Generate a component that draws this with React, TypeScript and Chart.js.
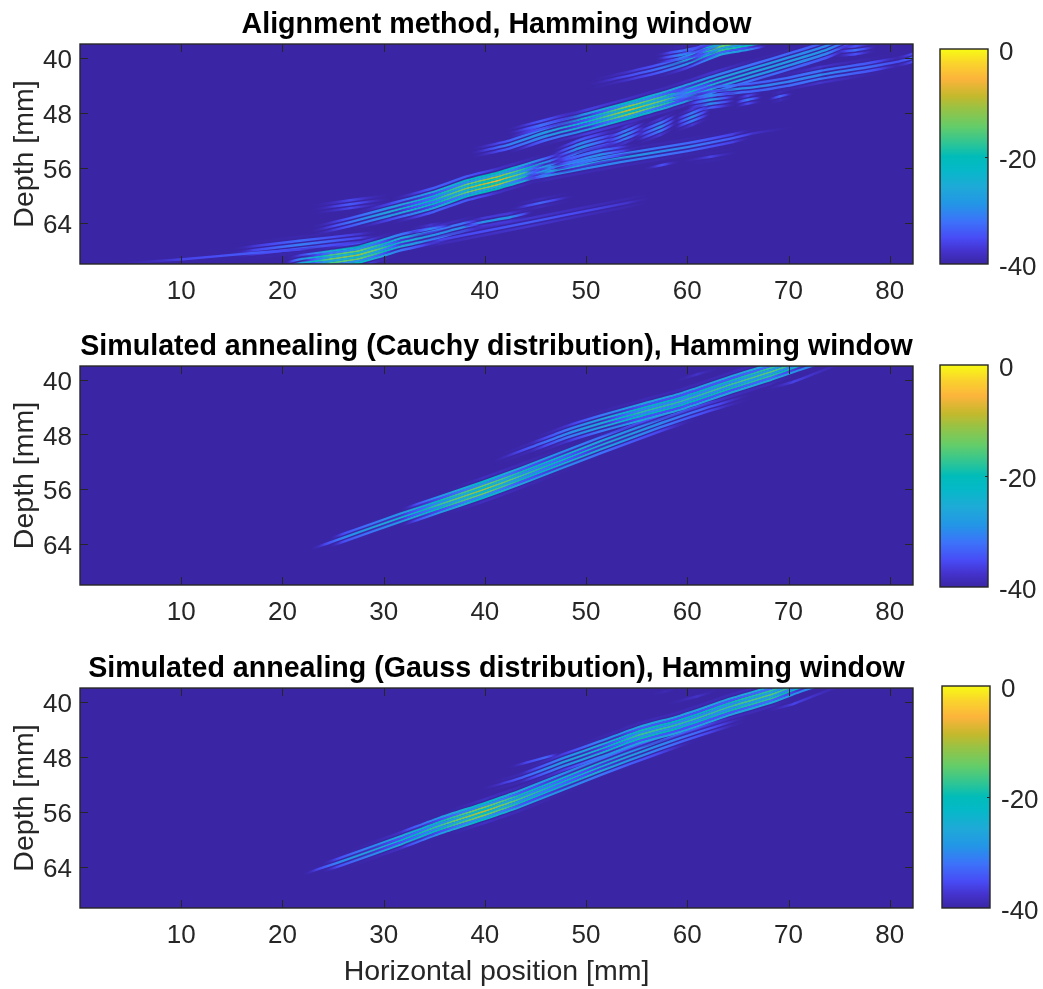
import React, { useEffect, useRef } from "react";
import { Chart, registerables } from "chart.js";

Chart.register(...registerables);

type Station = [number, number, number, number]; // x mm, depth mm, peak dB, half-width mm

const titles = [
  "Alignment method, Hamming window",
  "Simulated annealing (Cauchy distribution), Hamming window",
  "Simulated annealing (Gauss distribution), Hamming window",
];
const xTicks = [10, 20, 30, 40, 50, 60, 70, 80];
const yTicks = [40, 48, 56, 64];
const colorbarTicks = [-40, -20, 0];

const alignmentLobes: Station[][] = [
  [[20.3,70.4,-40,0.6],[21.7,69.9,-28,1.0],[24.7,69.3,-14,1.3],[27.4,68.7,-11,1.4],[29.6,67.8,-16,1.3],[31.6,66.9,-24,1.2],[34.6,65.9,-29,1.0],[38.0,64.6,-30,0.9],[39.5,64.2,-38,0.5],[40.5,64.0,-40,0.4]],
  [[15,68.4,-40,0.9],[17.1,68.0,-36,0.9],[21.7,67.2,-31,0.9],[27.7,66.2,-36,0.9],[29.5,65.9,-40,0.9]],
  [[3.0,70.0,-40,0.3],[10.2,69.3,-36,0.3],[17.1,68.4,-34,0.3],[21.7,67.9,-36,0.3],[24,67.5,-40,0.3]],
  [[33.6,67.1,-40,0.6],[35.6,66.5,-36,0.6],[44.5,63.9,-34,0.6],[54.1,61.1,-37,0.6],[56.5,60.4,-40,0.5]],
  [[37.8,64.5,-40,0.5],[39.8,63.9,-29,0.5],[42.5,63.2,-29,0.5],[44.8,62.4,-40,0.5]],
  [[42.4,62.1,-40,0.5],[45.5,61.1,-33,0.5],[48.9,60.1,-40,0.5]],
  [[32.4,65.5,-40,0.5],[34.6,64.9,-30,0.5],[36.8,64.3,-40,0.5]],
  [[22.7,65.3,-40,0.5],[26.7,63.9,-32,0.8],[30.6,62.4,-26,1.0],[34.9,60.7,-20,1.5],[38.2,59.0,-12,1.4],[41.2,57.9,-6,1.3],[44.2,56.6,-18,1.3],[46.4,55.6,-30,1.2],[48,54.8,-40,0.8]],
  [[44.0,57.2,-40,0.9],[46.1,56.6,-27,0.9],[53.4,54.6,-28,0.9],[60.0,53.0,-31,0.9],[64.5,51.7,-34,0.7],[66.5,51.0,-37,0.4],[70.7,50.1,-40,0.3]],
  [[46.4,54.8,-40,1.2],[49.4,53.1,-28,1.2],[52.1,52.0,-35,1.2],[54,51.4,-40,1.0]],
  [[46.8,55.7,-40,1.0],[48.1,55.3,-33,1.0],[51.4,54.1,-29,1.0],[54.3,53.4,-38,1.0],[55.5,53.1,-40,0.8]],
  [[54.7,51.6,-40,1.0],[57.3,50.1,-29,1.0],[59.1,48.8,-40,1.0]],
  [[58.6,49.7,-40,1.0],[60.5,48.6,-29,1.0],[62.4,47.5,-40,1.0]],
  [[51.7,52.4,-40,1.0],[53.9,51.2,-29,1.0],[56,49.9,-40,1.0]],
  [[22.8,62.1,-40,0.8],[26.7,61.3,-34,0.8],[30.8,60.5,-40,0.8]],
  [[38.5,53.9,-40,0.5],[42.2,52.7,-31,0.7],[46.1,50.8,-28,1.3],[50.1,49.3,-22,1.4],[54.3,47.6,-8,1.3],[58.3,45.9,-17,1.3],[62.9,43.7,-25,1.4],[66.5,42.1,-27,1.3],[69.9,40.6,-28,1.3],[73.8,38.8,-29,1.2],[76.1,37.4,-36,0.8]],
  [[42,51.1,-40,0.8],[45.5,49.8,-32,0.8],[48.1,48.8,-37,0.8],[49.8,48.2,-40,0.6]],
  [[58,45.7,-38,0.8],[60.6,45.1,-27,0.8],[66.5,44.3,-30,0.7],[69.9,43.5,-31,0.9],[73.1,42.5,-30,1.0],[78.1,41.3,-33,0.9],[80.7,40.6,-35,0.5],[82.3,40.0,-33,0.7]],
  [[59.8,46.8,-40,1.2],[62.3,46.1,-28,1.2],[65,45.6,-40,1.2]],
  [[64.6,46.6,-40,0.6],[66.0,46.1,-31,0.6],[67.5,45.7,-40,0.6]],
  [[67.9,46.1,-40,0.5],[69.2,45.6,-33,0.5],[70.5,45.2,-40,0.5]],
  [[74.4,39.2,-40,0.7],[76.6,38.9,-32,0.7],[78.8,38.4,-40,0.7]],
  [[59.3,55.1,-40,0.5],[62.3,54.4,-36,0.5],[65.2,53.7,-40,0.5]],
  [[55.6,56.2,-40,0.4],[57.5,55.6,-35,0.4],[59.3,55.1,-40,0.4]],
  [[50,44,-40,0.5],[52.4,43.2,-37,0.6],[56.6,41.8,-33,0.8],[60.0,40.3,-27,1.0],[63.2,38.4,-14,1.2],[65.9,37.7,-18,1.2],[67.9,37.1,-30,0.8]],
  [[56.8,40.2,-40,0.9],[59.3,39.6,-30,0.9],[61.6,38.9,-35,0.9],[63.2,38.4,-40,0.7]],
];

const cauchyLobes: Station[][] = [
  [[22.7,64.8,-40,0.3],[24.5,63.9,-35,0.4],[26.2,63.0,-30,0.6],[31.6,60.2,-24,0.8],[35.6,58.2,-17,1.2],[39.8,56.1,-10,1.3],[43.5,54.1,-17,1.3],[51.4,49.6,-25,1.2],[57.3,46.4,-30,1.1],[61.3,44.4,-33,0.8],[66.5,42.1,-40,0.3]],
  [[40.5,52.1,-40,0.3],[44.5,49.9,-34,0.5],[48.1,47.9,-30,1.0],[51.4,46.4,-26,1.3],[55.3,44.8,-18,1.3],[59.3,43.2,-18,1.3],[64.5,40.6,-17,1.3],[68.2,38.9,-15,1.3],[71.1,37.4,-20,1.2],[74,36,-24,1.2]],
  [[67.5,41.5,-40,0.4],[70.5,40.3,-36,0.4],[74,38.3,-38,0.4],[75.5,37.5,-40,0.3]],
  [[58.6,40.3,-40,0.3],[61,39.2,-37,0.3],[63.2,38.3,-40,0.3]],
];

const gaussLobes: Station[][] = [
  [[21.9,65.2,-40,0.3],[23.8,64.2,-35,0.4],[25.7,63.3,-30,0.6],[31.6,60.2,-22,0.9],[35.6,58.0,-17,1.2],[39.8,56.0,-9,1.3],[43.5,54.1,-17,1.3],[51.4,49.5,-24,1.2],[57.3,46.3,-30,1.1],[61.3,44.3,-33,0.8],[66.2,42.1,-40,0.3]],
  [[39.5,52.8,-40,0.3],[43.5,51.1,-34,0.5],[48.1,48.6,-27,1.0],[51.4,46.9,-24,1.3],[55.3,44.8,-17,1.3],[59.3,43.2,-18,1.3],[64.5,40.6,-17,1.3],[68.2,39.0,-15,1.3],[71.1,37.4,-20,1.2],[74,36,-24,1.2]],
  [[42.2,49.6,-40,0.3],[44,48.9,-36,0.3],[46,48.1,-33,0.3],[47.5,47.5,-40,0.3]],
  [[67.5,41.5,-40,0.4],[70.5,40.3,-36,0.4],[74,38.3,-38,0.4],[75.5,37.5,-40,0.3]],
  [[57.6,40.5,-40,0.3],[61,39.2,-37,0.3],[63.2,38.2,-40,0.3]],
  [[56.3,39.0,-40,0.3],[57.8,38.5,-38,0.3],[59,38.1,-40,0.3]],
];

const lobeSets = [alignmentLobes, cauchyLobes, gaussLobes];

const colormap: [number, number, number, number][] = [
  [0, 58, 38, 165], [0.06, 68, 50, 205], [0.12, 72, 75, 245], [0.2, 60, 115, 250],
  [0.28, 35, 150, 230], [0.36, 30, 170, 215], [0.44, 5, 185, 200], [0.5, 0, 188, 185],
  [0.56, 45, 197, 150], [0.64, 100, 205, 105], [0.72, 150, 195, 70], [0.78, 195, 185, 45],
  [0.86, 252, 180, 60], [0.93, 250, 210, 45], [1, 248, 250, 20],
];

const INK = "#262626";
const BG = "rgb(58,38,165)";
const FONT = '"Liberation Sans", Arial, sans-serif';
const FRINGE_STEP = 0.29;
const GAP_DB = 12;
const HW_SCALE = 1.4;

function parula(db: number): string {
  const t = Math.max(0, Math.min(1, (db + 40) / 40));
  const alpha = Math.min(1, (db + 40) / 4);
  for (let i = 1; i < colormap.length; i++) {
    if (t <= colormap[i][0]) {
      const a = colormap[i - 1], b = colormap[i];
      const f = (t - a[0]) / (b[0] - a[0]);
      return `rgba(${a[1] + (b[1] - a[1]) * f},${a[2] + (b[2] - a[2]) * f},${a[3] + (b[3] - a[3]) * f},${alpha})`;
    }
  }
  return "rgb(248,250,20)";
}

function fringeGradient(chart: any, pts: { x: number; y: number }[], dbs: number[]) {
  const sx = chart.scales?.x;
  if (!sx) return BG;
  const x0 = sx.getPixelForValue(pts[0].x);
  const x1 = sx.getPixelForValue(pts[pts.length - 1].x);
  if (!Number.isFinite(x0) || !Number.isFinite(x1)) return BG;
  const g = chart.ctx.createLinearGradient(x0, 0, x1, 0);
  const span = pts[pts.length - 1].x - pts[0].x;
  for (let i = 0; i < pts.length - 1; i++) {
    for (let s = 0; s <= 5; s++) {
      const f = s / 5;
      const x = pts[i].x + (pts[i + 1].x - pts[i].x) * f;
      g.addColorStop(Math.min(1, (x - pts[0].x) / span), parula(dbs[i] + (dbs[i + 1] - dbs[i]) * f));
    }
  }
  return g;
}

function buildDatasets(lobes: Station[][]) {
  const gaps: any[] = [];
  const crests: any[] = [];
  const ordered = [...lobes].sort(
    (a, b) => Math.max(...a.map((s) => s[2])) - Math.max(...b.map((s) => s[2]))
  );
  for (const lobe of ordered) {
    const maxHw = Math.max(...lobe.map((s) => s[3])) * HW_SCALE;
    const n = Math.ceil(maxHw / FRINGE_STEP);
    for (let k = -n; k <= n; k++) {
      const off = k * FRINGE_STEP;
      const isGap = Math.abs(k) % 2 === 1;
      const pts = lobe.map((s) => ({ x: s[0], y: s[1] + off }));
      const dbs = lobe.map((s) => {
        const r = off / (s[3] * HW_SCALE);
        const env = s[2] - (s[2] + 40) * r * r;
        return Math.max(-40, isGap ? env - GAP_DB : env);
      });
      if (dbs.every((d) => d <= -39.5)) continue;
      const ds = {
        data: pts,
        borderWidth: isGap ? 2.2 : 2.4,
        borderColor: (ctx: any) => fringeGradient(ctx.chart, pts, dbs),
        pointRadius: 0,
        tension: 0.2,
        borderCapStyle: "butt",
        fill: false,
        clip: 0,
      };
      (isGap ? gaps : crests).push(ds);
    }
  }
  return [...gaps, ...crests];
}

const plotDecor = {
  id: "plotDecor",
  beforeDatasetsDraw(chart: any) {
    const { ctx, chartArea: a } = chart;
    ctx.save();
    ctx.fillStyle = BG;
    ctx.fillRect(a.left, a.top, a.right - a.left, a.bottom - a.top);
    ctx.restore();
    ctx.save();
    ctx.filter = "blur(0.55px)";
  },
  afterDatasetsDraw(chart: any) {
    const { ctx, chartArea: a, scales } = chart;
    ctx.restore();
    ctx.save();
    ctx.strokeStyle = INK;
    ctx.lineWidth = 1;
    ctx.beginPath();
    for (const v of xTicks) {
      const p = Math.round(scales.x.getPixelForValue(v)) + 0.5;
      ctx.moveTo(p, a.bottom);
      ctx.lineTo(p, a.bottom - 8);
      ctx.moveTo(p, a.top);
      ctx.lineTo(p, a.top + 8);
    }
    for (const v of yTicks) {
      const p = Math.round(scales.y.getPixelForValue(v)) + 0.5;
      ctx.moveTo(a.left, p);
      ctx.lineTo(a.left + 8, p);
      ctx.moveTo(a.right, p);
      ctx.lineTo(a.right - 8, p);
    }
    ctx.stroke();
    ctx.lineWidth = 1.4;
    ctx.strokeRect(a.left, a.top, a.right - a.left, a.bottom - a.top);
    ctx.restore();
  },
};

const colorbarDecor = {
  id: "colorbarDecor",
  afterDatasetsDraw(chart: any) {
    const { ctx, chartArea: a, scales } = chart;
    ctx.save();
    ctx.strokeStyle = INK;
    ctx.lineWidth = 1.4;
    ctx.strokeRect(a.left, a.top, a.right - a.left, a.bottom - a.top);
    ctx.lineWidth = 1;
    const p = Math.round(scales.y.getPixelForValue(-20)) + 0.5;
    ctx.beginPath();
    ctx.moveTo(a.right, p);
    ctx.lineTo(a.right - 3, p);
    ctx.stroke();
    ctx.restore();
  },
};

function colorbarFill(ctx: any) {
  const chart = ctx.chart;
  const sy = chart.scales?.y;
  if (!sy) return BG;
  const y0 = sy.getPixelForValue(-40);
  const y1 = sy.getPixelForValue(0);
  if (!Number.isFinite(y0) || !Number.isFinite(y1)) return BG;
  const g = chart.ctx.createLinearGradient(0, y0, 0, y1);
  for (const c of colormap) g.addColorStop(c[0], `rgb(${c[1]},${c[2]},${c[3]})`);
  return g;
}

const PLOT_TOP_SPACE = 44;
const CANVAS_TOPS = [0, 322, 644];
const PLOT_HEIGHTS = [220, 219, 220];
const CB_TOPS = [49, 365, 686];
const CB_BOTTOMS = [264, 587, 908];
const CB_LEFTS = [10, 10, 12];
const CB_W = 48;
const CB_CANVAS_W = 113;

function makePlot(canvas: HTMLCanvasElement, i: number, last: boolean) {
  const chart = new Chart(canvas, {
    type: "line",
    data: { datasets: buildDatasets(lobeSets[i]) as any },
    plugins: [plotDecor],
    options: {
      animation: false,
      responsive: false,
      devicePixelRatio: 1,
      layout: { padding: { left: 0, right: 17, top: 0, bottom: 0 } },
      plugins: {
        legend: { display: false },
        tooltip: { enabled: false },
        title: {
          display: true,
          text: titles[i],
          fullSize: false,
          color: "#000",
          font: { family: FONT, size: 28.6, weight: "bold", lineHeight: 1.2 },
          padding: { top: 7.7, bottom: 2 },
        },
      },
      scales: {
        x: {
          type: "linear",
          min: 0,
          max: 82.3,
          grid: { display: false, drawTicks: false },
          border: { display: false },
          afterBuildTicks: (s: any) => { s.ticks = xTicks.map((value) => ({ value })); },
          afterFit: (s: any) => { s.height = last ? 81 : 40; },
          ticks: { color: INK, padding: 12, maxRotation: 0, autoSkip: false, font: { family: FONT, size: 26 } },
          title: {
            display: last,
            text: "Horizontal position [mm]",
            color: INK,
            font: { family: FONT, size: 28.5, lineHeight: 1.2 },
            padding: { top: 0, bottom: 0 },
          },
        },
        y: {
          type: "linear",
          reverse: true,
          min: 38,
          max: 70,
          grid: { display: false, drawTicks: false },
          border: { display: false },
          afterBuildTicks: (s: any) => { s.ticks = yTicks.map((value) => ({ value })); },
          afterFit: (s: any) => { s.width = 80; },
          ticks: { color: INK, padding: 8, autoSkip: false, labelOffset: 3, font: { family: FONT, size: 26 } },
          title: {
            display: true,
            text: "Depth [mm]",
            color: INK,
            font: { family: FONT, size: 28.5, lineHeight: 1.2 },
            padding: { top: 8, bottom: 0 },
          },
        },
      },
    } as any,
  });
  chart.update();
  return chart;
}

function makeColorbar(canvas: HTMLCanvasElement, i: number) {
  const chart = new Chart(canvas, {
    type: "bar",
    data: {
      labels: ["dB"],
      datasets: [{ data: [[-40, 0]], backgroundColor: colorbarFill, barPercentage: 1, categoryPercentage: 1, borderWidth: 0 }] as any,
    },
    plugins: [colorbarDecor],
    options: {
      animation: false,
      responsive: false,
      devicePixelRatio: 1,
      layout: { padding: { left: CB_LEFTS[i], right: 0, top: 20, bottom: 20 } },
      plugins: { legend: { display: false }, tooltip: { enabled: false }, title: { display: false } },
      scales: {
        x: { display: false },
        y: {
          position: "right",
          min: -40,
          max: 0,
          grid: { display: false, drawTicks: false },
          border: { display: false },
          afterBuildTicks: (s: any) => { s.ticks = colorbarTicks.map((value) => ({ value })); },
          afterFit: (s: any) => {
            s.width = CB_CANVAS_W - CB_LEFTS[i] - CB_W;
            s.paddingTop = 0;
            s.paddingBottom = 0;
          },
          ticks: { color: INK, padding: 11, autoSkip: false, labelOffset: 4, font: { family: FONT, size: 26 } },
        },
      },
    } as any,
  });
  chart.update();
  return chart;
}

export default function App() {
  const plots = [useRef<HTMLCanvasElement>(null), useRef<HTMLCanvasElement>(null), useRef<HTMLCanvasElement>(null)];
  const bars = [useRef<HTMLCanvasElement>(null), useRef<HTMLCanvasElement>(null), useRef<HTMLCanvasElement>(null)];

  useEffect(() => {
    const charts: Chart[] = [];
    for (let i = 0; i < 3; i++) {
      charts.push(makePlot(plots[i].current!, i, i === 2));
      charts.push(makeColorbar(bars[i].current!, i));
    }
    return () => charts.forEach((c) => c.destroy());
  }, []);

  return (
    <div style={{ position: "absolute", left: 0, top: 0, width: 1043, height: 989, overflow: "hidden", background: "#fff" }}>
      {[0, 1, 2].map((i) => {
        const top = CANVAS_TOPS[i];
        const h = i === 2 ? 989 - top : PLOT_TOP_SPACE + PLOT_HEIGHTS[i] + 40;
        return (
          <React.Fragment key={i}>
            <canvas ref={plots[i]} width={930} height={h} style={{ position: "absolute", left: 0, top, display: "block" }} />
            <canvas
              ref={bars[i]}
              width={CB_CANVAS_W}
              height={CB_BOTTOMS[i] - CB_TOPS[i] + 40}
              style={{ position: "absolute", left: 930, top: CB_TOPS[i] - 20, display: "block" }}
            />
          </React.Fragment>
        );
      })}
    </div>
  );
}
